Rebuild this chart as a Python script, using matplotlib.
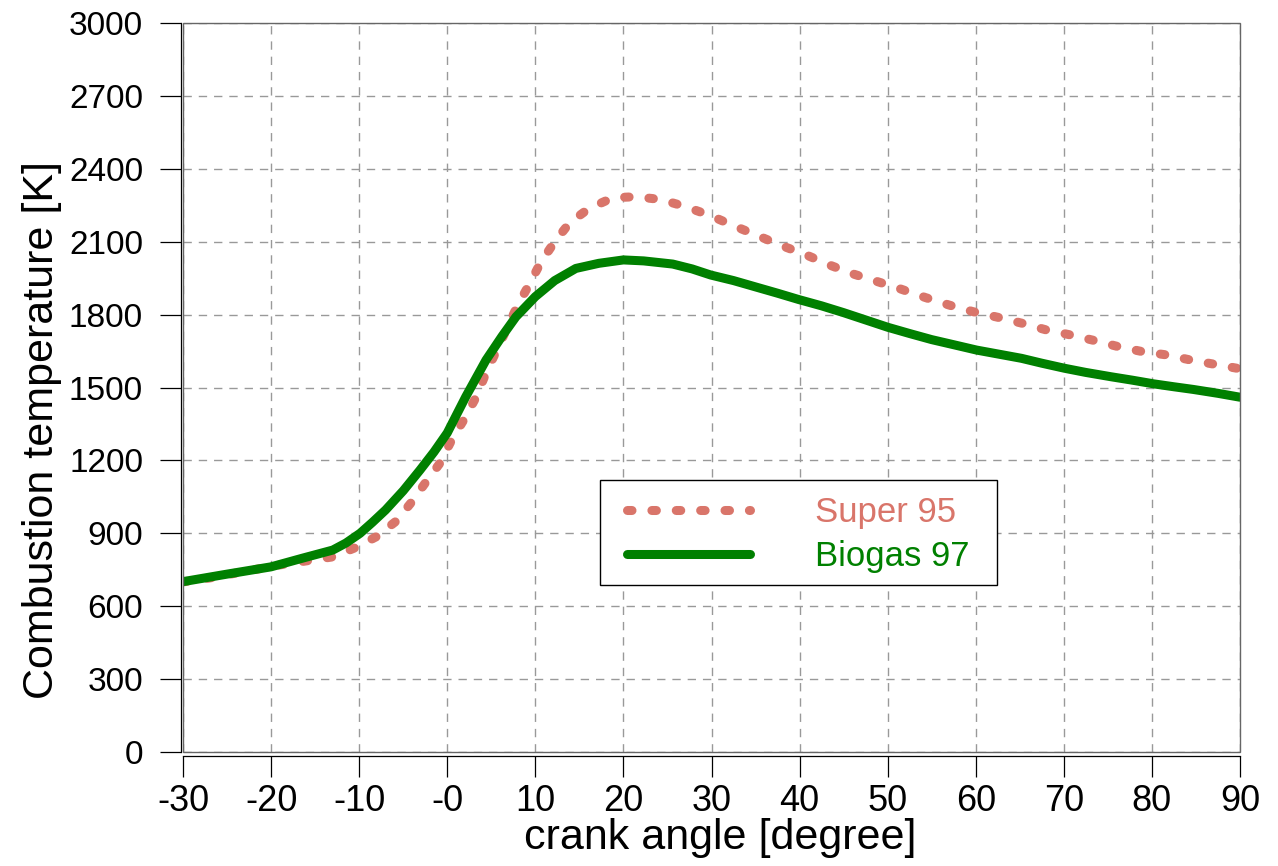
import matplotlib
matplotlib.use("Agg")
import matplotlib.pyplot as plt
from matplotlib.patches import Rectangle

# ---- data ----
super_angle = [-30, -27, -19, -13, -10.5, -8.1, -5.8, -4.1, -2.4, -0.8, 0.5, 2.0, 3.3, 4.4,
               6.7, 8.0, 9.4, 10.6, 12.2, 13.9, 16.1, 18.8, 21.4, 24.2, 26.8, 29.7, 32.3,
               35.1, 37.8, 40.6, 43.4, 46.1, 48.9, 51.5, 54.3, 57.0, 59.7, 62.5, 65.3,
               68.0, 70.8, 73.5, 76.2, 79.0, 81.7, 84.4, 87.2, 90]
super_temp = [700, 716, 770, 803, 840, 885, 950, 1026, 1112, 1190, 1284, 1374, 1462, 1560,
              1737, 1839, 1930, 2014, 2100, 2178, 2237, 2281, 2285, 2274, 2247, 2210, 2169,
              2127, 2086, 2048, 2004, 1967, 1935, 1905, 1870, 1839, 1812, 1789, 1764,
              1737, 1716, 1693, 1668, 1647, 1634, 1613, 1595, 1577]

biogas_angle = [-30, -25, -20, -16.4, -13, -11.5, -9.9, -8.5, -7, -5, -3.1, -1.5, 0, 2.1,
                4.4, 6.2, 7.8, 10, 12.2, 14.6, 17.2, 20, 22.3, 25.6, 27.8, 29.9, 32.5,
                34.9, 37.5, 39.9, 42.5, 45, 47.5, 50, 52.5, 55, 57.5, 60.1, 62.5, 65.2,
                67.5, 70.1, 72.5, 75.4, 77.8, 80.2, 82.5, 84.7, 87.5, 90]
biogas_temp = [701, 732, 762, 798, 831, 860, 900, 945, 996, 1075, 1160, 1235, 1313, 1462,
               1613, 1710, 1791, 1874, 1940, 1990, 2011, 2025, 2021, 2008, 1988, 1963,
               1940, 1915, 1888, 1862, 1836, 1808, 1778, 1748, 1722, 1697, 1676, 1654,
               1638, 1620, 1600, 1579, 1562, 1544, 1530, 1515, 1503, 1492, 1476, 1460]

series_labels = ["Super 95", "Biogas 97"]
x_ticks = list(range(-30, 91, 10))
x_tick_labels = ["-0" if t == 0 else str(t) for t in x_ticks]
y_ticks = list(range(0, 3001, 300))

SALMON = "#D9756A"
GREEN = "#008000"

plt.rcParams["font.family"] = ["Liberation Sans", "DejaVu Sans"]

W, H = 1278, 866
fig = plt.figure(figsize=(W / 100, H / 100), dpi=100)
L, R, T, B = 183, 1240, 23, 752
ax = fig.add_axes([L / W, 1 - B / H, (R - L) / W, (B - T) / H])


def fx(px):
    return (px - L) / (R - L)


def fy(py):
    return (B - py) / (B - T)


ax.set_xlim(-30, 90)
ax.set_ylim(0, 3000)

lw = 6.5
ax.plot(super_angle, super_temp, color=SALMON, lw=lw, dashes=(0.5, 2.2),
        dash_capstyle="round", label=series_labels[0], zorder=3)
ax.plot(biogas_angle, biogas_temp, color=GREEN, lw=lw, solid_capstyle="round",
        solid_joinstyle="round", label=series_labels[1], zorder=4)

# grid
ax.grid(True, color="#999999", linestyle=(0, (6, 5)), linewidth=1.0)
ax.set_axisbelow(True)

# ticks
ax.set_xticks(x_ticks)
ax.set_xticklabels(x_tick_labels)
ax.set_yticks(y_ticks)
ax.tick_params(axis="x", direction="out", length=15, width=0.9, labelsize=26, pad=5)
ax.tick_params(axis="y", direction="out", length=15, width=0.9, labelsize=24, pad=12)

# spines: offset left/bottom axes, plot box as a rectangle
for s in ["top", "right"]:
    ax.spines[s].set_visible(False)
ax.spines["left"].set_position(("outward", 1.8))
ax.spines["bottom"].set_position(("outward", 3))
ax.spines["left"].set_linewidth(0.9)
ax.spines["bottom"].set_linewidth(0.9)
ax.add_patch(Rectangle((0, 0), 1, 1, transform=ax.transAxes, fill=False,
                       edgecolor="#666666", linewidth=1.0, clip_on=False, zorder=5))

ax.set_xlabel("crank angle [degree]", fontsize=31)
ax.xaxis.set_label_coords(fx(720), fy(818))
ax.set_ylabel("Combustion temperature [K]", fontsize=31)
ax.yaxis.set_label_coords(fx(62), fy(430))

# legend: frame drawn separately, content placed inside
ax.add_patch(Rectangle((fx(600), fy(585)), fx(997) - fx(600), fy(480) - fy(585),
                       transform=ax.transAxes, facecolor="white", edgecolor="black",
                       linewidth=1.0, zorder=6))
leg = ax.legend(loc="upper left", bbox_to_anchor=(fx(627), fy(496)),
                borderaxespad=0, borderpad=0, fontsize=25, handlelength=3.55,
                handletextpad=1.87, labelspacing=0.33, frameon=False)
leg.set_zorder(7)
for txt, col in zip(leg.get_texts(), [SALMON, GREEN]):
    txt.set_color(col)

fig.savefig("out.png", dpi=100)
